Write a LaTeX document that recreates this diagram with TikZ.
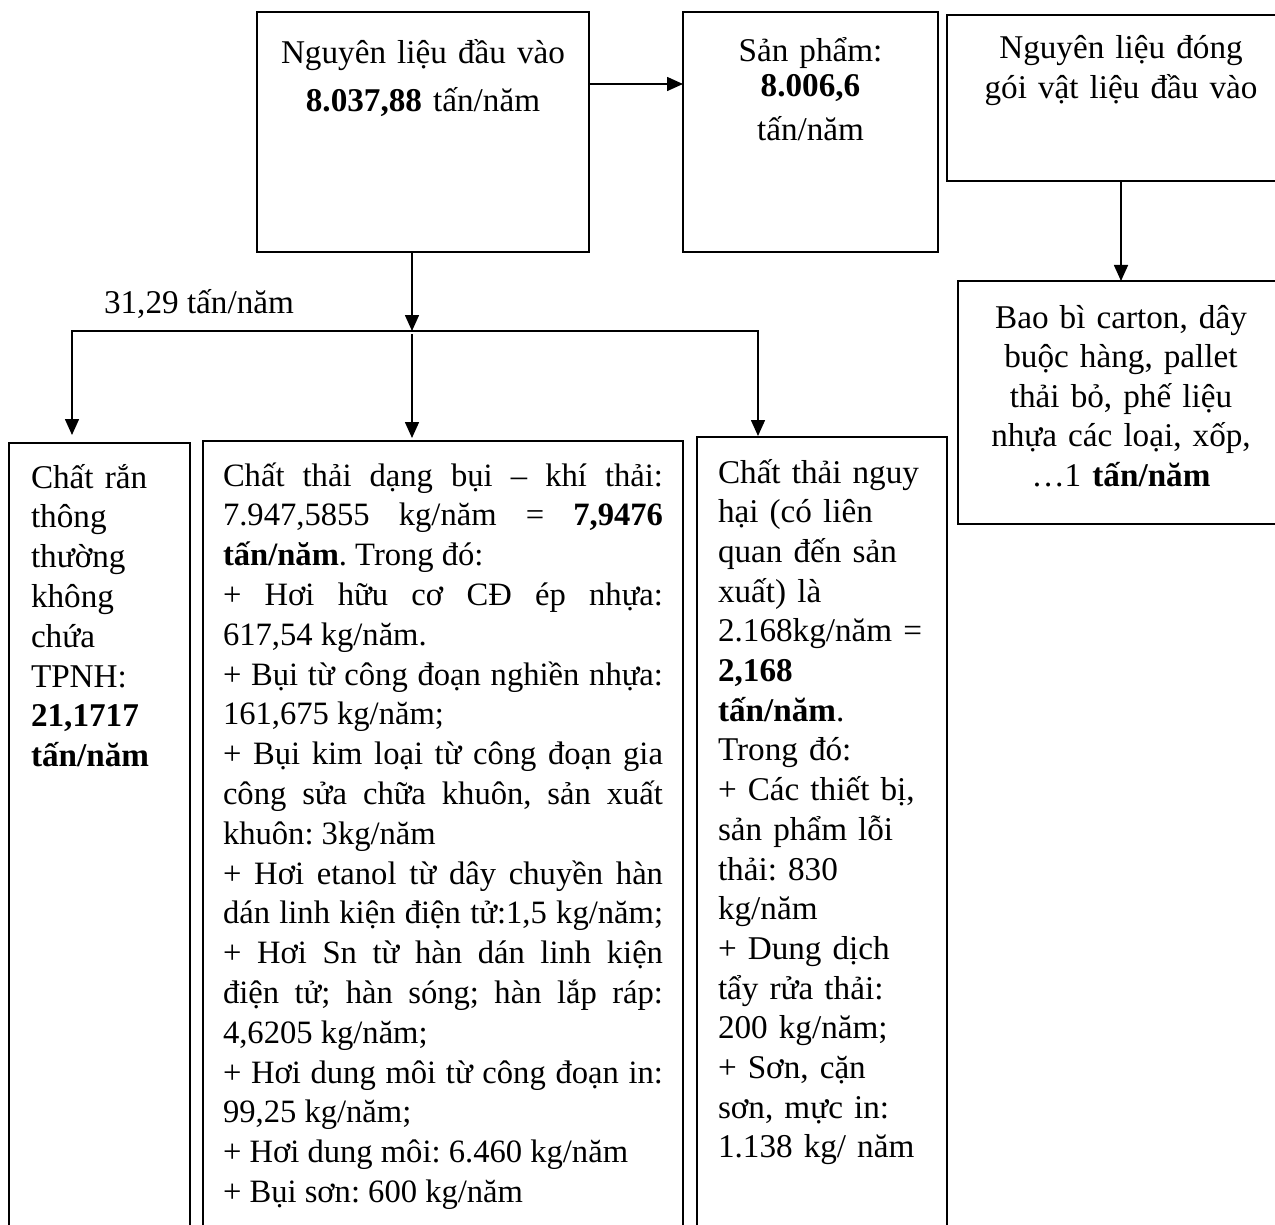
\documentclass[tikz,border=0pt]{standalone}
\usepackage{fontspec}
\setmainfont{Liberation Serif}
\usetikzlibrary{arrows.meta}
\setlength{\lineskiplimit}{-200pt}
\frenchspacing
% a line stretched to the full text width (justified line)
\newcommand\fullline[1]{\makebox[\linewidth][s]{#1}}
% interword space that may shrink a little more than usual
\newcommand\tightspaces{\setlength{\spaceskip}{0.25em plus 0.6em minus 0.14em}}

\begin{document}
\begin{tikzpicture}[x=1pt,y=-1pt,
  box/.style={draw, line width=1.6pt, inner sep=0pt, outer sep=0pt},
  txt/.style={inner sep=0pt, outer sep=0pt},
  big/.style={font=\fontsize{33.2}{#1}\selectfont},
  conn/.style={line width=1.6pt},
  arr/.style={conn, -{Triangle[length=16pt,width=14pt]}},
  arrtwo/.style={conn, {Triangle[length=16pt,width=14pt]}-{Triangle[length=16pt,width=14pt]}}
]
\useasboundingbox (0,0) rectangle (1275,1225);
\clip (0,0) rectangle (1275,1225);

% boxes
\node[box, minimum width=332pt, minimum height=240pt] (A) at (423,132) {};
\node[box, minimum width=255pt, minimum height=240pt] (B) at (810.5,132) {};
\node[box, minimum width=348pt, minimum height=166pt] (C) at (1121,98) {};
\node[box, minimum width=326pt, minimum height=243pt] (D) at (1121,402.5) {};
\node[box, minimum width=181pt, minimum height=797pt] (E) at (99.5,841.5) {};
\node[box, minimum width=480pt, minimum height=799pt] (F) at (443,840.5) {};
\node[box, minimum width=250pt, minimum height=803pt] (G) at (822,838.5) {};

% texts
\node[txt, big=48, anchor=base, text width=320pt, align=center] (At) at (423,64)
  {Nguyên liệu đầu vào\\\textbf{8.037,88} tấn/năm};
\node[txt, big=40, anchor=base, text width=240pt, align=center] (Bt) at (810.5,62)
  {Sản phẩm:\\[-5pt]\textbf{8.006,6}\\[4pt]tấn/năm};
\node[txt, big=40, anchor=base, text width=330pt, align=center] (Ct) at (1121,59)
  {Nguyên liệu đóng\\gói vật liệu đầu vào};
\node[txt, big=39.5, anchor=base, text width=310pt, align=center] (Dt) at (1121,328)
  {Bao bì carton, dây\\buộc hàng, pallet\\thải bỏ, phế liệu\\nhựa các loại, xốp,\\…1 \textbf{tấn/năm}};
\node[txt, big=40, anchor=base west] (lbl) at (104,313) {31,29 tấn/năm};
\node[txt, big=39.8, anchor=base west, text width=160pt, align=left] (Et) at (31,488)
  {Chất rắn\\thông\\thường\\không\\chứa\\TPNH:\\\textbf{21,1717}\\\textbf{tấn/năm}};
\node[txt, font=\fontsize{32.6}{39.8}\selectfont,
      anchor=base west, text width=440pt, align=left] (Ft) at (223,486)
  {\tightspaces
   \fullline{Chất thải dạng bụi – khí thải:}\\
   \fullline{7.947,5855 kg/năm = \textbf{7,9476}}\\
   \textbf{tấn/năm}. Trong đó:\\
   \fullline{+ Hơi hữu cơ CĐ ép nhựa:}\\
   617,54 kg/năm.\\
   \fullline{+ Bụi từ công đoạn nghiền nhựa:}\\
   161,675 kg/năm;\\
   \fullline{+ Bụi kim loại từ công đoạn gia}\\
   \fullline{công sửa chữa khuôn, sản xuất}\\
   khuôn: 3kg/năm\\
   \fullline{+ Hơi etanol từ dây chuyền hàn}\\
   \fullline{dán linh kiện điện tử:1,5 kg/năm;}\\
   \fullline{+ Hơi Sn từ hàn dán linh kiện}\\
   \fullline{điện tử; hàn sóng; hàn lắp ráp:}\\
   4,6205 kg/năm;\\
   \fullline{+ Hơi dung môi từ công đoạn in:}\\
   99,25 kg/năm;\\
   \mbox{+ Hơi dung môi: 6.460 kg/năm}\\
   + Bụi sơn: 600 kg/năm};
\node[txt, big=39.7, anchor=base west, text width=228pt, align=left] (Gt) at (718,483)
  {Chất thải nguy\\hại (có liên\\quan đến sản\\xuất) là\\2.168kg/năm =\\\textbf{2,168}\\\textbf{tấn/năm}.\\Trong đó:\\+ Các thiết bị,\\sản phẩm lỗi\\thải: 830\\kg/năm\\+ Dung dịch\\tẩy rửa thải:\\200 kg/năm;\\+ Sơn, cặn\\sơn, mực in:\\1.138 kg/ năm};

% connectors
\coordinate (ab) at ([yshift=-72pt]A.north east);
\draw[arr] (ab) -- (ab -| B.west);
\draw[arr] (C.south) -- (D.north);
\coordinate (split) at (412,331);
\coordinate (hl) at (72,331);
\coordinate (hr) at (758,331);
\draw[arr] (split |- A.south) -- (split);
\draw[arrtwo, shorten <=8pt, shorten >=1pt] (hl |- E.north) -- (hl) -- (hr) -- (hr |- G.north);
\draw[arr, shorten >=3pt] ([yshift=-3pt]split) -- (split |- F.north);
\end{tikzpicture}
\end{document}
